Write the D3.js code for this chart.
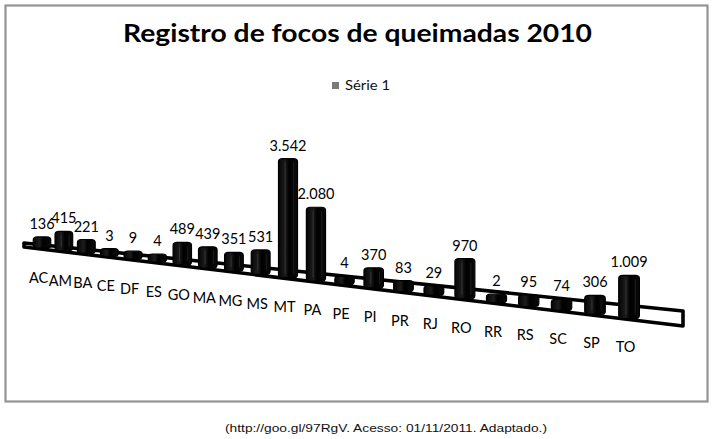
<!DOCTYPE html>
<html><head><meta charset="utf-8">
<script src="https://cdn.jsdelivr.net/npm/d3@7/dist/d3.min.js"></script>
<style>html,body{margin:0;padding:0;background:#fff;}svg{display:block;}</style>
</head><body>
<svg id="chart" width="712" height="439"></svg>
<script>
const title = "Registro de focos de queimadas 2010";
const seriesName = "Série 1";
const source = "(http://goo.gl/97RgV. Acesso: 01/11/2011. Adaptado.)";
const categories = ["AC","AM","BA","CE","DF","ES","GO","MA","MG","MS","MT","PA","PE","PI","PR","RJ","RO","RR","RS","SC","SP","TO"];
const values = [136,415,221,3,9,4,489,439,351,531,3542,2080,4,370,83,29,970,2,95,74,306,1009];

const svg = d3.select("#chart");
const fmt = d3.formatLocale({decimal:",", thousands:".", grouping:[3], currency:["R$",""]}).format(",");

// frame
svg.append("rect").attr("x",5.5).attr("y",5.5).attr("width",702).attr("height",396)
  .attr("fill","#fff").attr("stroke","#939393").attr("stroke-width",2.2);

// title
svg.append("text").attr("x",357.5).attr("y",42).attr("text-anchor","middle")
  .attr("font-family","Lato, 'Open Sans', sans-serif").attr("font-weight","bold").attr("font-size",24)
  .attr("textLength",469).attr("lengthAdjust","spacingAndGlyphs").attr("fill","#000").text(title);

// legend
svg.append("rect").attr("x",332).attr("y",82).attr("width",7).attr("height",7).attr("fill","#7a7a7a");
svg.append("text").attr("x",345).attr("y",89.5).attr("font-family","Lato, sans-serif").attr("font-size",13)
  .attr("textLength",45).attr("lengthAdjust","spacingAndGlyphs").attr("fill","#111").text(seriesName);

// source
svg.append("text").attr("x",225).attr("y",431.5).attr("font-family","'Liberation Sans', Arial, sans-serif")
  .attr("font-size",11.5).attr("textLength",322).attr("lengthAdjust","spacingAndGlyphs").attr("fill","#111").text(source);

// perspective layout
const uScale = d3.scalePoint().domain(categories).range([0, categories.length - 1]);
const xPos = u => 42 + 21.55*u + 0.305*u*u;
const floorL = 24, floorR = 683;
const backY = d3.scaleLinear().domain([floorL, floorR]).range([243, 311]);
const frontY = d3.scaleLinear().domain([floorL, floorR]).range([247, 326]);
const labelY = d3.scaleLinear().domain([42, 627]).range([278, 347]);
const hScale = d3.scaleLinear().domain([0, d3.max(values)]).range([0, 111]);
const persp = u => 1 + 0.008*(u - 10);

// floor
svg.append("path")
  .attr("d", d3.line()([[floorL,backY(floorL)],[floorR,backY(floorR)],[floorR,frontY(floorR)],[floorL,frontY(floorL)]]) + "Z")
  .attr("fill","#fff").attr("stroke","#000").attr("stroke-width",3.6).attr("stroke-linejoin","round");

const defs = svg.append("defs");
const grad = defs.append("linearGradient").attr("id","cyl").attr("x1","0").attr("x2","1").attr("y1","0").attr("y2","0");
grad.append("stop").attr("offset","0%").attr("stop-color","#050505");
grad.append("stop").attr("offset","35%").attr("stop-color","#1c1c1c");
grad.append("stop").attr("offset","55%").attr("stop-color","#000");
grad.append("stop").attr("offset","100%").attr("stop-color","#0a0a0a");

const data = categories.map((c,i) => {
  const u = uScale(c);
  const x = xPos(u);
  const f = persp(u);
  const h = (8 + hScale(values[i])) * f;
  const bottom = frontY(x) - 1;
  return {c, v: values[i], u, x, w: 19*f, h, top: bottom - h, bottom};
});

const bars = svg.append("g");
bars.selectAll("rect.bar").data(data).join("rect").attr("class","bar")
  .attr("x", d => d.x - d.w/2).attr("y", d => d.top).attr("width", d => d.w).attr("height", d => d.h)
  .attr("rx",4).attr("ry",3).attr("fill","url(#cyl)").attr("stroke","#000").attr("stroke-width",1.2);
bars.selectAll("line.hl").data(data.filter(d => d.h > 18)).join("line").attr("class","hl")
  .attr("x1", d => d.x - d.w*0.15).attr("x2", d => d.x - d.w*0.15)
  .attr("y1", d => d.top + 4).attr("y2", d => d.bottom - 4)
  .attr("stroke","#3a3a3a").attr("stroke-width",0.8);
bars.selectAll("line.hl2").data(data.filter(d => d.h > 18)).join("line").attr("class","hl2")
  .attr("x1", d => d.x + d.w*0.3).attr("x2", d => d.x + d.w*0.3)
  .attr("y1", d => d.top + 4).attr("y2", d => d.bottom - 4)
  .attr("stroke","#2a2a2a").attr("stroke-width",0.7);

// value labels
svg.append("g").selectAll("text").data(data).join("text")
  .attr("x", d => d.x).attr("y", d => d.top - 8).attr("text-anchor","middle")
  .attr("font-family","Lato, sans-serif").attr("font-size",14.5).attr("fill","#000")
  .text(d => fmt(d.v));

// category labels
svg.append("g").selectAll("text").data(data).join("text")
  .attr("x", d => d.x - 3.5).attr("y", d => labelY(d.x - 3.5) + 5.5).attr("text-anchor","middle")
  .attr("font-family","Lato, sans-serif").attr("font-size",14.5).attr("fill","#000")
  .text(d => d.c);
</script>
</body></html>
